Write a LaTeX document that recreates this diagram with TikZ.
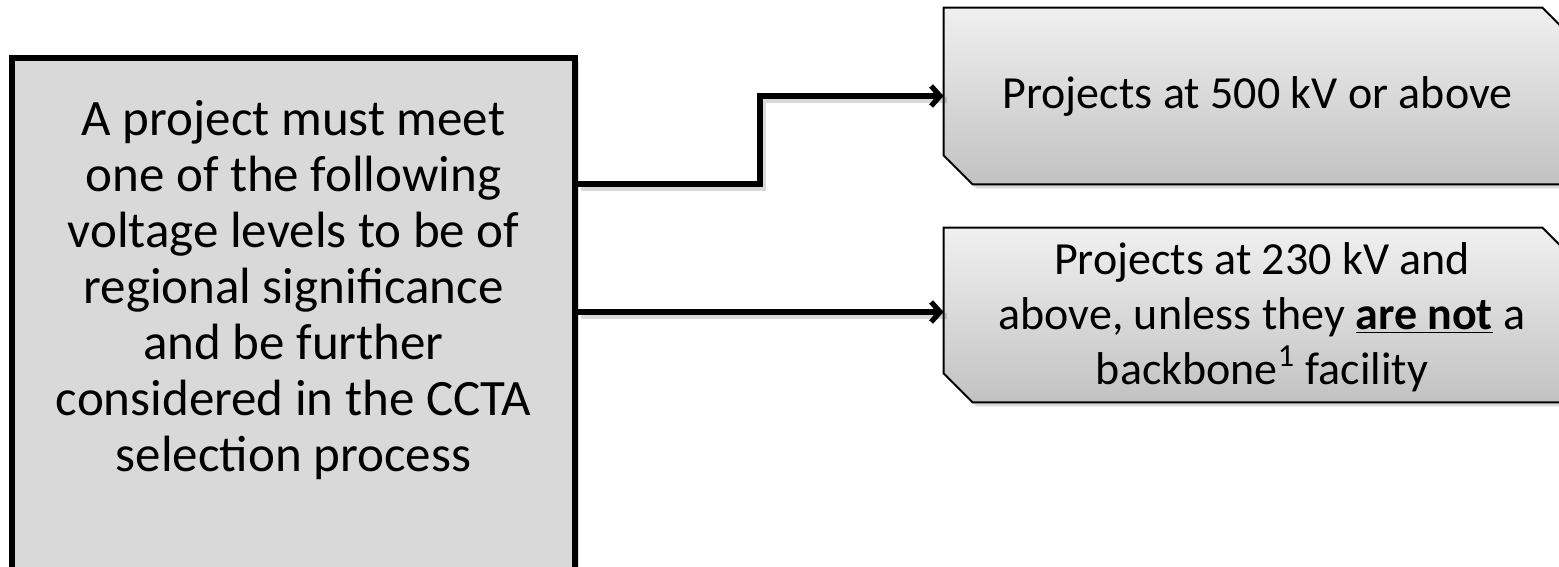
\documentclass[tikz,border=0pt]{standalone}
\usepackage{fontspec}
\setmainfont{Carlito}
\usetikzlibrary{shadows,arrows.meta,calc}
\definecolor{leftfill}{HTML}{D9D9D9}
\definecolor{gtop}{HTML}{F0F0F0}
\definecolor{gbot}{HTML}{C2C2C2}
\newcommand\snipbox[2]{%
  \draw[rboxdraw] (#1.north west) -- ([xshift=-#2]#1.north east) -- ([yshift=-#2]#1.north east)
    -- (#1.south east) -- ([xshift=#2]#1.south west) -- ([yshift=#2]#1.south west) -- cycle;}
\begin{document}
\begin{tikzpicture}[x=0.5pt,y=-0.5pt,
  lbox/.style={draw=black,line width=3pt,fill=leftfill,minimum width=281.5pt,minimum height=262pt,inner sep=0pt,
    drop shadow={shadow xshift=2pt,shadow yshift=-2pt,opacity=0.3}},
  ltext/.style={align=center,font=\fontsize{25.5}{28}\selectfont,inner sep=0pt},
  rframe/.style={rectangle,inner sep=0pt,minimum width=313.5pt},
  rboxdraw/.style={draw=black,line width=1pt,top color=gtop,bottom color=gbot,
    drop shadow={shadow xshift=2pt,shadow yshift=-2pt,opacity=0.3}},
  rtext/.style={align=center,font=\fontsize{23}{27.5}\selectfont,inner sep=0pt},
  conn/.style={line width=2.6pt,-{Straight Barb[length=4.5pt,width=10pt]}},
  connshadow/.style={line width=2.6pt,draw=black,opacity=0.15}
]
\useasboundingbox (0,0) rectangle (1559,567);
% left box
\node[lbox] (L) at (293.5,320) {};
\node[ltext] (Lt) at (293.5,290) {A project must meet\\one of the following\\voltage levels to be of\\regional significance\\and be further\\considered in the CCTA\\selection process};
% right boxes
\node[rframe,minimum height=88pt] (R1) at (1257.5,96) {};
\snipbox{R1}{14.5pt}
\node[rtext] (R1t) at (R1.center) {Projects at 500 kV or above};
\node[rframe,minimum height=87pt] (R2) at (1257.5,315) {};
\snipbox{R2}{14.5pt}
\node[rtext] (R2t) at (1262,317) {Projects at 230 kV and\\above, unless they \underline{\textbf{are not}} a\\backbone\textsuperscript{1} facility};
% connectors
\coordinate (s1) at (L.east |- 0,184);
\coordinate (k1) at (760,184);
\coordinate (s2) at (L.east |- 0,312);
\coordinate (e2) at (R2.west |- 0,312);
\draw[connshadow,transform canvas={xshift=1.5pt,yshift=-2pt}] (s1) -- (k1) |- (R1.west);
\draw[connshadow,transform canvas={xshift=1.5pt,yshift=-2pt}] (s2) -- (e2);
\draw[conn] (s1) -- (k1) |- (R1.west);
\draw[conn] (s2) -- (e2);
\end{tikzpicture}
\end{document}
